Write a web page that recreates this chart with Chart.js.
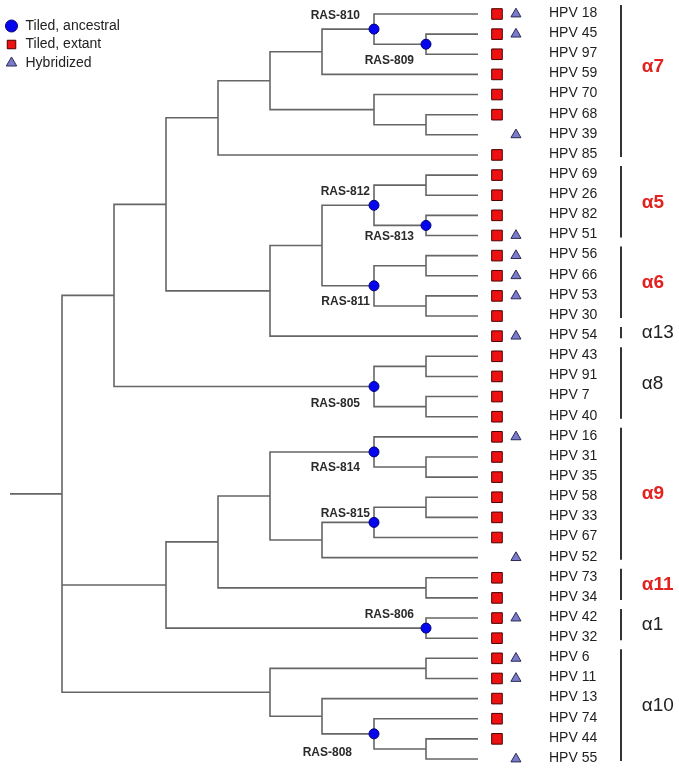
<!DOCTYPE html>
<html>
<head>
<meta charset="utf-8">
<script src="https://cdn.jsdelivr.net/npm/chart.js@4.4.1/dist/chart.umd.min.js"></script>
<style>
html, body { margin: 0; padding: 0; background: #fff; }
#wrap { width: 679px; height: 769px; }
</style>
</head>
<body>
<div id="wrap"><canvas id="tree" width="679" height="769"></canvas></div>
<script>
// leaves, top to bottom
const leaves = ['HPV 18','HPV 45','HPV 97','HPV 59','HPV 70','HPV 68','HPV 39','HPV 85',
  'HPV 69','HPV 26','HPV 82','HPV 51','HPV 56','HPV 66','HPV 53','HPV 30','HPV 54',
  'HPV 43','HPV 91','HPV 7','HPV 40','HPV 16','HPV 31','HPV 35','HPV 58','HPV 33','HPV 67','HPV 52',
  'HPV 73','HPV 34','HPV 42','HPV 32','HPV 6','HPV 11','HPV 13','HPV 74','HPV 44','HPV 55'];

// 1 = tiled, extant (red square)
const tiledExtant = [1,1,1,1,1,1,0,1, 1,1,1,1, 1,1,1,1, 1, 1,1,1,1, 1,1,1,1,1,1,0, 1,1, 1,1, 1,1,1,1,1,0];
// 1 = hybridized (triangle)
const hybridized  = [1,1,0,0,0,0,1,0, 0,0,0,1, 1,1,1,0, 1, 0,0,0,0, 1,0,0,0,0,0,1, 0,0, 1,0, 1,1,0,0,0,1];

// tree: [branch level, (ancestral name), children...]
const tree = [1,
  [2,
    [3,
      [4,
        [5,
          [6, [7, 'RAS-810', 'HPV 18', [8, 'RAS-809', 'HPV 45', 'HPV 97']], 'HPV 59'],
          [7, 'HPV 70', [8, 'HPV 68', 'HPV 39']]],
        'HPV 85'],
      [5,
        [6,
          [7, 'RAS-812', [8, 'HPV 69', 'HPV 26'], [8, 'RAS-813', 'HPV 82', 'HPV 51']],
          [7, 'RAS-811', [8, 'HPV 56', 'HPV 66'], [8, 'HPV 53', 'HPV 30']]],
        'HPV 54']],
    [7, 'RAS-805', [8, 'HPV 43', 'HPV 91'], [8, 'HPV 7', 'HPV 40']]],
  [3,
    [4,
      [5,
        [7, 'RAS-814', 'HPV 16', [8, 'HPV 31', 'HPV 35']],
        [6, [7, 'RAS-815', [8, 'HPV 58', 'HPV 33'], 'HPV 67'], 'HPV 52']],
      [8, 'HPV 73', 'HPV 34']],
    [8, 'RAS-806', 'HPV 42', 'HPV 32']],
  [5,
    [8, 'HPV 6', 'HPV 11'],
    [6, 'HPV 13', [7, 'RAS-808', 'HPV 74', [8, 'HPV 44', 'HPV 55']]]]
];
const leafLevel = 9;

// clades
const clades      = ['α7','α5','α6','α13','α8','α9','α11','α1','α10'];
const cladeFirst  = ['HPV 18','HPV 69','HPV 56','HPV 54','HPV 43','HPV 16','HPV 73','HPV 42','HPV 6'];
const cladeLast   = ['HPV 85','HPV 51','HPV 30','HPV 54','HPV 40','HPV 52','HPV 34','HPV 32','HPV 55'];
const cladeTiled  = [1,1,1,0,0,1,1,0,0];

// styling / placement (not data)
const FONT = "'Liberation Sans', Arial, sans-serif";
const COL = { square: 9.365, triangle: 9.73, name: 10.365, bar: 11.75, clade: 12.15 };
const rasLabel = {
  'RAS-810': [-14, -13], 'RAS-809': [-12, 16], 'RAS-812': [-4, -14], 'RAS-813': [-12, 11],
  'RAS-811': [-4, 16], 'RAS-805': [-14, 17], 'RAS-814': [-14, 16], 'RAS-815': [-4, -9],
  'RAS-806': [-12, -13], 'RAS-808': [-22, 19]
};
const cladeDy = { 'α7': -15 };

// lay out the tree
const treePts = [];
const ancestral = [];
function place(node) {
  if (typeof node === 'string') return { x: leafLevel, y: leaves.indexOf(node) };
  const lv = node[0];
  let rest = node.slice(1);
  let name = null;
  if (typeof rest[0] === 'string' && rest[0].startsWith('RAS')) {
    name = rest[0];
    rest = rest.slice(1);
  }
  const kids = rest.map(place);
  const y = (kids[0].y + kids[kids.length - 1].y) / 2;
  kids.forEach(function (k) {
    treePts.push({ x: lv, y: y }, { x: lv, y: k.y }, { x: k.x, y: k.y }, { x: null, y: null });
  });
  if (name) ancestral.push({ x: lv, y: y, name: name });
  return { x: lv, y: y };
}
const root = place(tree);
treePts.push({ x: 0, y: root.y }, { x: root.x, y: root.y });

// marker data
const extantPts = [];
const hybridPts = [];
leaves.forEach(function (name, i) {
  if (tiledExtant[i]) extantPts.push({ x: COL.square, y: i });
  if (hybridized[i]) hybridPts.push({ x: COL.triangle, y: i });
});

// clade bars
const barPts = [];
clades.forEach(function (c, i) {
  barPts.push({ x: COL.bar, y: leaves.indexOf(cladeFirst[i]) - 0.45 },
              { x: COL.bar, y: leaves.indexOf(cladeLast[i]) + 0.1 },
              { x: null, y: null });
});

// text drawn via scales
const textPlugin = {
  id: 'treeText',
  afterDatasetsDraw(chart) {
    const ctx = chart.ctx;
    const xs = chart.scales.x, ys = chart.scales.y;
    ctx.save();
    ctx.textBaseline = 'middle';

    ctx.fillStyle = '#1e1e1e';
    ctx.font = '14px ' + FONT;
    ctx.textAlign = 'left';
    leaves.forEach(function (name, i) {
      ctx.fillText(name, xs.getPixelForValue(COL.name), ys.getPixelForValue(i) - 1);
    });

    ctx.font = 'bold 12px ' + FONT;
    ctx.fillStyle = '#2a2a2a';
    ctx.textAlign = 'right';
    ancestral.forEach(function (a) {
      const off = rasLabel[a.name] || [-8, 14];
      ctx.fillText(a.name, xs.getPixelForValue(a.x) + off[0], ys.getPixelForValue(a.y) + off[1]);
    });

    ctx.textAlign = 'left';
    clades.forEach(function (c, i) {
      const yMid = (leaves.indexOf(cladeFirst[i]) + leaves.indexOf(cladeLast[i])) / 2;
      ctx.font = (cladeTiled[i] ? 'bold ' : '') + '19px ' + FONT;
      ctx.fillStyle = cladeTiled[i] ? '#e3221f' : '#222';
      ctx.fillText(c, xs.getPixelForValue(COL.clade), ys.getPixelForValue(yMid) - 3 + (cladeDy[c] || 0));
    });
    ctx.restore();
  }
};

new Chart(document.getElementById('tree'), {
  type: 'scatter',
  data: {
    datasets: [
      {
        label: 'Tiled, ancestral',
        data: ancestral.map(function (a) { return { x: a.x, y: a.y }; }),
        pointStyle: 'circle',
        pointRadius: 5,
        backgroundColor: '#0606ee',
        borderColor: '#00007a',
        borderWidth: 1
      },
      {
        label: 'Tiled, extant',
        data: extantPts,
        pointStyle: 'rect',
        pointRadius: 7.5,
        backgroundColor: '#ee1111',
        borderColor: '#4a0000',
        borderWidth: 1
      },
      {
        label: 'Hybridized',
        data: hybridPts,
        pointStyle: 'triangle',
        pointRadius: 5.8,
        backgroundColor: '#7b7bcc',
        borderColor: '#2a2a55',
        borderWidth: 1
      },
      {
        label: 'tree',
        data: treePts,
        showLine: true,
        spanGaps: false,
        pointRadius: 0,
        borderColor: '#666',
        borderWidth: 1.6,
        borderJoinStyle: 'miter',
        backgroundColor: '#666'
      },
      {
        label: 'clades',
        data: barPts,
        showLine: true,
        spanGaps: false,
        pointRadius: 0,
        borderColor: '#333',
        borderWidth: 2,
        backgroundColor: '#333'
      }
    ]
  },
  options: {
    responsive: false,
    animation: false,
    events: [],
    layout: { padding: 0, autoPadding: false },
    scales: {
      x: { type: 'linear', display: false, min: -10 / 52, max: 669 / 52 },
      y: { type: 'linear', display: false, reverse: true, min: -14 / 20.135, max: 755 / 20.135 }
    },
    plugins: {
      tooltip: { enabled: false },
      legend: {
        position: 'chartArea',
        align: 'start',
        title: { display: true, text: '', padding: { top: 2.5, bottom: 0 }, font: { size: 10 } },
        labels: {
          usePointStyle: true,
          boxHeight: 8.5,
          padding: 4.5,
          color: '#222',
          font: { family: FONT, size: 14 },
          filter: function (item) { return item.datasetIndex < 3; }
        }
      }
    }
  },
  plugins: [textPlugin]
});
</script>
</body>
</html>
